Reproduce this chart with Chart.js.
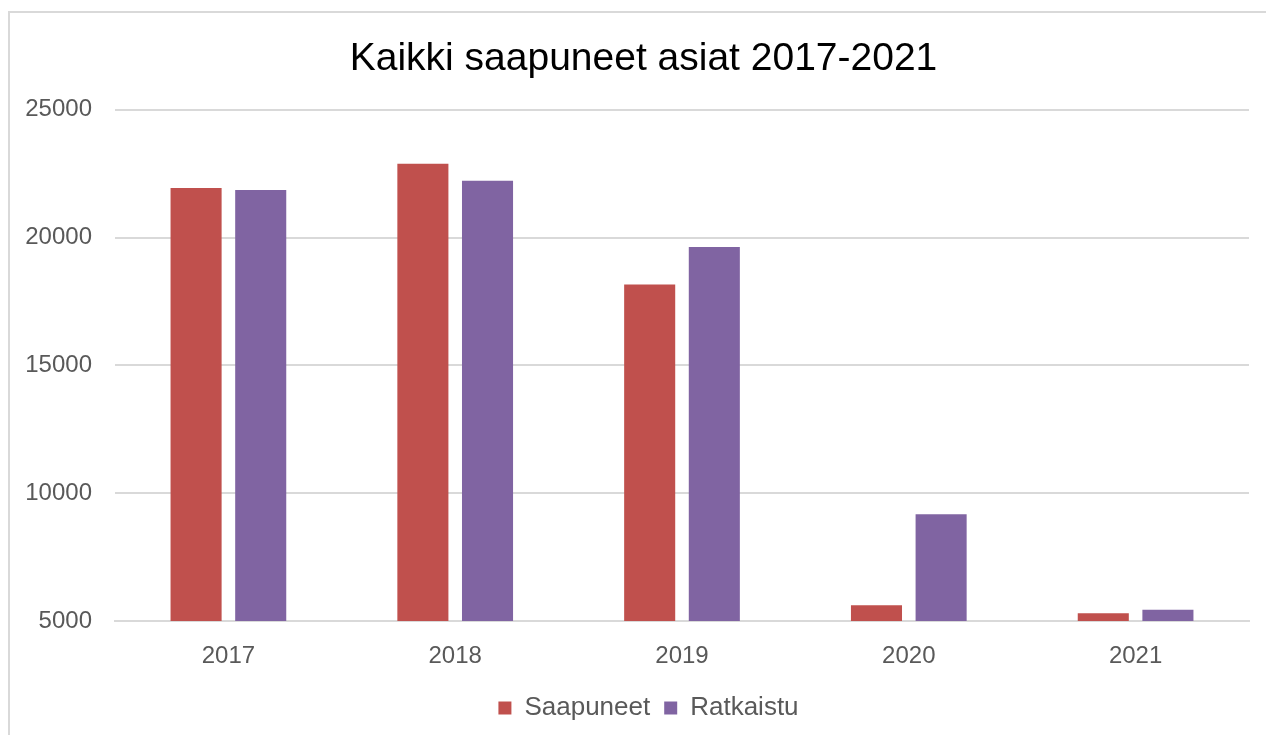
<!DOCTYPE html>
<html>
<head>
<meta charset="utf-8">
<script src="https://cdn.jsdelivr.net/npm/chart.js@4.4.1/dist/chart.umd.min.js"></script>
<style>
  html, body { margin: 0; padding: 0; background: #fff; }
  #wrap { position: relative; width: 1266px; height: 735px; overflow: hidden; }
  #frame { position: absolute; left: 8px; top: 11px; width: 1300px; height: 800px;
           border-left: 2px solid #d9d9d9; border-top: 2px solid #d9d9d9; }
  #chart { position: absolute; left: 0; top: 0; }
</style>
</head>
<body>
<div id="wrap">
  <div id="frame"></div>
  <canvas id="chart" width="1266" height="735"></canvas>
</div>
<script>
// --- Data ---
const years = ['2017', '2018', '2019', '2020', '2021'];
const saapuneet = [21940, 22885, 18165, 5615, 5300];
const ratkaistu = [21865, 22220, 19630, 9180, 5445];
const yTicks = [5000, 10000, 15000, 20000, 25000];

const FONT = "'Liberation Sans', Arial, sans-serif";
const GREY = '#595959';

// title + legend sit centred on the whole frame, not the plot; nudge them right
const shiftBoxes = {
    id: 'shiftBoxes',
    afterLayout(chart) {
        const t = chart.titleBlock, l = chart.legend;
        if (t) { t.left += 19; t.right += 19; }
        if (l) { l.left += 24; l.right += 24; }
    }
};

const ctx = document.getElementById('chart').getContext('2d');
new Chart(ctx, {
    type: 'bar',
    data: {
        labels: years,
        datasets: [
            { label: 'Saapuneet', data: saapuneet, backgroundColor: '#C0504D' },
            { label: 'Ratkaistu', data: ratkaistu, backgroundColor: '#8064A2' }
        ]
    },
    options: {
        responsive: false,
        animation: false,
        categoryPercentage: 0.57,
        barPercentage: 0.79,
        layout: { padding: { left: 0, right: 17, top: 0, bottom: 4 } },
        plugins: {
            title: {
                display: true,
                text: 'Kaikki saapuneet asiat 2017-2021',
                color: '#000',
                font: { family: FONT, size: 39, weight: 'normal', lineHeight: 1.2 },
                padding: { top: 36, bottom: 27 }
            },
            legend: {
                position: 'bottom',
                labels: {
                    color: GREY,
                    font: { family: FONT, size: 26 },
                    boxWidth: 13,
                    boxHeight: 13,
                    padding: 14
                }
            },
            tooltip: { enabled: false }
        },
        scales: {
            x: {
                grid: { display: false },
                border: { display: true, color: '#d9d9d9', width: 2 },
                ticks: { color: GREY, font: { family: FONT, size: 24 }, padding: 13 },
                afterFit: s => { s.height = 60; }
            },
            y: {
                min: 5000,
                max: 25000,
                afterBuildTicks: s => { s.ticks = yTicks.map(v => ({ value: v })); },
                grid: { color: '#d9d9d9', lineWidth: 2, drawTicks: false },
                border: { display: false },
                ticks: {
                    color: GREY,
                    font: { family: FONT, size: 24 },
                    padding: 23,
                    callback: v => String(v)
                },
                afterFit: s => { s.width = 115; }
            }
        }
    },
    plugins: [shiftBoxes]
});
</script>
</body>
</html>
